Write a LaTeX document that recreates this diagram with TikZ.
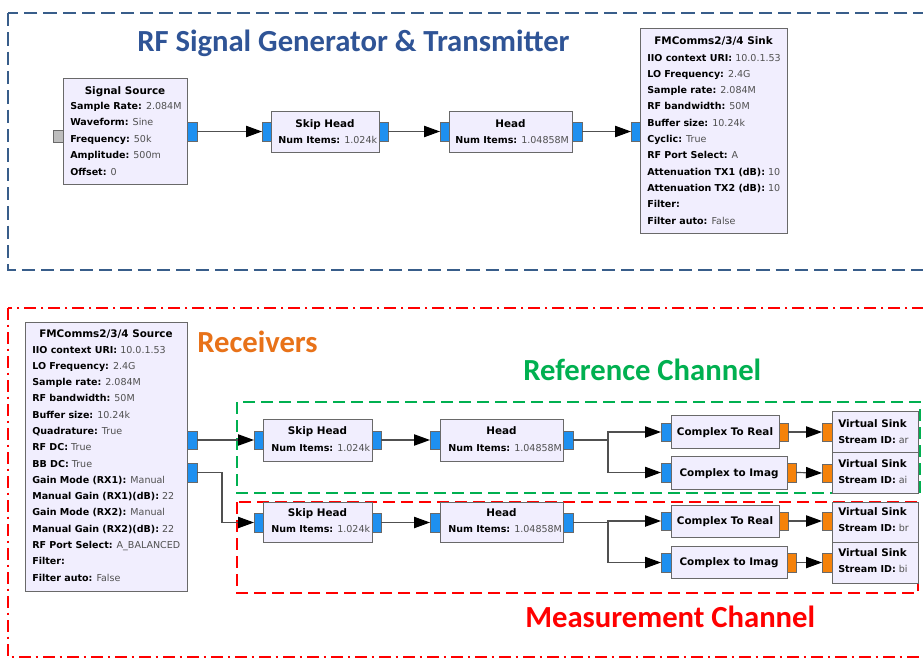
\documentclass[tikz,border=0pt]{standalone}
\usepackage{fontspec}
\newfontfamily\grcfont{DejaVu Sans}
\newfontfamily\calfont{Carlito}
\usetikzlibrary{arrows.meta}
\definecolor{blkfill}{RGB}{241,238,254}
\definecolor{blkborder}{RGB}{105,105,105}
\definecolor{valcol}{RGB}{80,80,80}
\definecolor{portblue}{RGB}{30,144,240}
\definecolor{portorange}{RGB}{245,130,10}
\definecolor{portgray}{RGB}{190,190,190}
\definecolor{linecol}{RGB}{80,80,80}
\definecolor{titleblue}{RGB}{47,84,150}
\definecolor{dashblue}{RGB}{56,93,138}
\definecolor{recorange}{RGB}{232,114,25}
\definecolor{refgreen}{RGB}{0,176,80}
\definecolor{measred}{RGB}{255,0,0}
\tikzset{
  blockbox/.style={draw=blkborder, fill=blkfill, line width=0.75pt, inner sep=0pt, outer sep=0pt},
  bport/.style={draw=blkborder, fill=portblue, line width=0.5pt, inner sep=0pt, outer sep=0pt},
  oport/.style={draw=blkborder, fill=portorange, line width=0.5pt, inner sep=0pt, outer sep=0pt},
  gport/.style={draw=blkborder, fill=portgray, line width=0.5pt, inner sep=0pt, outer sep=0pt},
  ttl/.style={font=\grcfont\bfseries\fontsize{7.8}{9}\selectfont, inner sep=0pt, anchor=base},
  ptext/.style={font=\grcfont\fontsize{7.15}{8}\selectfont, inner sep=0pt, anchor=base west},
  wire/.style={draw=linecol, line width=0.9pt},
  conn/.style={wire, -{Triangle[length=12pt,width=8.5pt,color=black]}},
  bigttl/.style={font=\calfont\bfseries\fontsize{23}{26}\selectfont, inner sep=0pt, anchor=base west},
  bluedash/.style={draw=dashblue, line width=2pt, dash pattern=on 10pt off 4.5pt},
  reddashdot/.style={draw=measred, line width=2.2pt, dash pattern=on 9pt off 3.5pt on 2pt off 3.5pt},
  greendash/.style={draw=refgreen, line width=2pt, dash pattern=on 9pt off 4.5pt},
  reddash/.style={draw=measred, line width=2pt, dash pattern=on 9pt off 4.5pt}
}
\newcommand\blk[5]{\node[blockbox, minimum width={(#4-#2)*0.75pt}, minimum height={(#5-#3)*0.75pt}] (#1) at ({(#2+#4)/2},{(#3+#5)/2}) {};}
\newcommand\prt[6]{\node[#6, minimum width={(#4-#2)*0.75pt}, minimum height={(#5-#3)*0.75pt}] (#1) at ({(#2+#4)/2},{(#3+#5)/2}) {};}
\newcommand\plines[5]{\foreach \lab/\val [count=\i] in {#5} {\node[ptext] (#1-\i) at (#2,{#3+(\i-1)*#4}) {\textbf{\lab} \textcolor{valcol}{\val}};}}
\begin{document}
\begin{tikzpicture}[x=0.75pt,y=-0.75pt]
\useasboundingbox (0,0) rectangle (923,660);
\clip (0,0) rectangle (923,660);
\fill[white] (0,0) rectangle (923,660);
% group frames
\draw[bluedash] (8,13) rectangle (945,270);
\draw[reddashdot] (8,308) rectangle (945,657);
\draw[greendash] (237,402) rectangle (920,493);
\draw[reddash] (237,502) rectangle (918,593);
% big labels
\node[bigttl, text=titleblue] (ttx) at (137,51) {RF Signal Generator \& Transmitter};
\node[bigttl, text=recorange] (trx) at (197,352) {Receivers};
\node[bigttl, text=refgreen] (tref) at (523,380) {Reference Channel};
\node[bigttl, text=measred] (tmeas) at (525,627) {Measurement Channel};
% ---------- transmitter ----------
\blk{ss}{63}{78}{187}{184}
\prt{ssin}{53}{130}{63}{142}{gport}
\prt{sso}{187}{122}{197}{141}{bport}
\node[ttl] (ss-t) at (125,94) {Signal Source};
\plines{ss}{70}{109.5}{16.4}{Sample Rate:/2.084M, Waveform:/Sine, Frequency:/50k, Amplitude:/500m, Offset:/0}
\blk{tsk}{271}{111}{379}{152}
\prt{tski}{262}{122}{271}{141}{bport}
\prt{tsko}{379}{122}{388}{141}{bport}
\node[ttl] (tsk-t) at (325,127) {Skip Head};
\plines{tsk}{278}{143}{16}{Num Items:/1.024k}
\blk{thd}{449}{111}{572}{152}
\prt{thdi}{440}{122}{449}{141}{bport}
\prt{thdo}{572}{122}{582}{141}{bport}
\node[ttl] (thd-t) at (510.5,127) {Head};
\plines{thd}{455}{143}{16}{Num Items:/1.04858M}
\blk{snk}{640}{29}{787}{233}
\prt{snki}{631}{122}{640}{141}{bport}
\node[ttl] (snk-t) at (713.5,44.5) {FMComms2/3/4 Sink};
\plines{snk}{647}{61}{16.3}{IIO context URI:/10.0.1.53, LO Frequency:/2.4G, Sample rate:/2.084M, RF bandwidth:/50M, Buffer size:/10.24k, Cyclic:/True, RF Port Select:/A, Attenuation TX1 (dB):/10, Attenuation TX2 (dB):/10, Filter:/, Filter auto:/False}
\draw[conn] (sso.east) -- (tski.west);
\draw[conn] (tsko.east) -- (thdi.west);
\draw[conn] (thdo.east) -- (snki.west);
% ---------- receivers ----------
\blk{src}{25}{322}{187}{591}
\prt{srco1}{187}{431}{197}{449}{bport}
\prt{srco2}{187}{463}{197}{482}{bport}
\node[ttl] (src-t) at (106,337) {FMComms2/3/4 Source};
\plines{src}{32}{353}{16.29}{IIO context URI:/10.0.1.53, LO Frequency:/2.4G, Sample rate:/2.084M, RF bandwidth:/50M, Buffer size:/10.24k, Quadrature:/True, RF DC:/True, BB DC:/True, Gain Mode (RX1):/Manual, Manual Gain (RX1)(dB):/22, Gain Mode (RX2):/Manual, Manual Gain (RX2)(dB):/22, RF Port Select:/A\_BALANCED, Filter:/, Filter auto:/False}
% reference chain
\blk{sk1}{263}{419}{372}{461}
\prt{sk1i}{254}{431}{263}{449}{bport}
\prt{sk1o}{372}{431}{381}{449}{bport}
\node[ttl] (sk1-t) at (317.5,434.5) {Skip Head};
\plines{sk1}{271}{451}{16}{Num Items:/1.024k}
\blk{hd1}{440}{419}{563}{461}
\prt{hd1i}{430}{431}{440}{449}{bport}
\prt{hd1o}{563}{431}{573}{449}{bport}
\node[ttl] (hd1-t) at (501.5,434.5) {Head};
\plines{hd1}{448}{451}{16}{Num Items:/1.04858M}
\blk{ctr1}{671}{415}{779}{448}
\prt{ctr1i}{661}{423}{671}{441}{bport}
\prt{ctr1o}{779}{423}{788}{441}{oport}
\node[ttl] (ctr1-t) at (725,435.5) {Complex To Real};
\blk{cti1}{671}{456}{787}{489}
\prt{cti1i}{661}{463}{671}{482}{bport}
\prt{cti1o}{787}{463}{796}{482}{oport}
\node[ttl] (cti1-t) at (729,476) {Complex to Imag};
\blk{vs1}{832}{411}{918}{452}
\prt{vs1i}{822}{423}{832}{441}{oport}
\node[ttl, anchor=base west] (vs1-t) at (838,427) {Virtual Sink};
\plines{vs1}{838}{443}{16}{Stream ID:/ar}
\blk{vs2}{832}{452}{918}{493}
\prt{vs2i}{822}{464}{832}{482}{oport}
\node[ttl, anchor=base west] (vs2-t) at (838,467) {Virtual Sink};
\plines{vs2}{838}{483.5}{16}{Stream ID:/ai}
% measurement chain
\blk{sk2}{263}{502}{372}{542}
\prt{sk2i}{254}{513}{263}{532}{bport}
\prt{sk2o}{372}{513}{381}{532}{bport}
\node[ttl] (sk2-t) at (317.5,516) {Skip Head};
\plines{sk2}{271}{532}{16}{Num Items:/1.024k}
\blk{hd2}{440}{502}{563}{542}
\prt{hd2i}{430}{513}{440}{532}{bport}
\prt{hd2o}{563}{513}{573}{532}{bport}
\node[ttl] (hd2-t) at (501.5,516) {Head};
\plines{hd2}{448}{532}{16}{Num Items:/1.04858M}
\blk{ctr2}{671}{505}{779}{537}
\prt{ctr2i}{661}{512}{671}{530}{bport}
\prt{ctr2o}{779}{512}{788}{530}{oport}
\node[ttl] (ctr2-t) at (725,524) {Complex To Real};
\blk{cti2}{671}{546}{787}{578}
\prt{cti2i}{661}{553}{671}{572}{bport}
\prt{cti2o}{787}{553}{796}{572}{oport}
\node[ttl] (cti2-t) at (729,565.6) {Complex to Imag};
\blk{vs3}{832}{502}{918}{542}
\prt{vs3i}{822}{512}{832}{530}{oport}
\node[ttl, anchor=base west] (vs3-t) at (838,515) {Virtual Sink};
\plines{vs3}{838}{531}{16}{Stream ID:/br}
\blk{vs4}{832}{542}{918}{583}
\prt{vs4i}{822}{553}{832}{572}{oport}
\node[ttl, anchor=base west] (vs4-t) at (838,556) {Virtual Sink};
\plines{vs4}{838}{572}{16}{Stream ID:/bi}
% connectors
\draw[conn] (srco1.east) -- (sk1i.west);
\draw[conn] (srco2.east) -- ++(25,0) |- (sk2i.west);
\draw[conn] (sk1o.east) -- (hd1i.west);
\draw[conn] (sk2o.east) -- (hd2i.west);
\draw[wire] (hd1o.east) -- ++(35,0) coordinate (br1);
\draw[conn] (br1) |- (ctr1i.west);
\draw[conn] (br1) |- (cti1i.west);
\draw[wire] (hd2o.east) -- ++(35,0) coordinate (br2);
\draw[conn] (br2) |- (ctr2i.west);
\draw[conn] (br2) |- (cti2i.west);
\draw[conn] (ctr1o.east) -- (vs1i.west);
\draw[conn] (cti1o.east) -- (vs2i.west);
\draw[conn] (ctr2o.east) -- (vs3i.west);
\draw[conn] (cti2o.east) -- (vs4i.west);
\end{tikzpicture}
\end{document}
